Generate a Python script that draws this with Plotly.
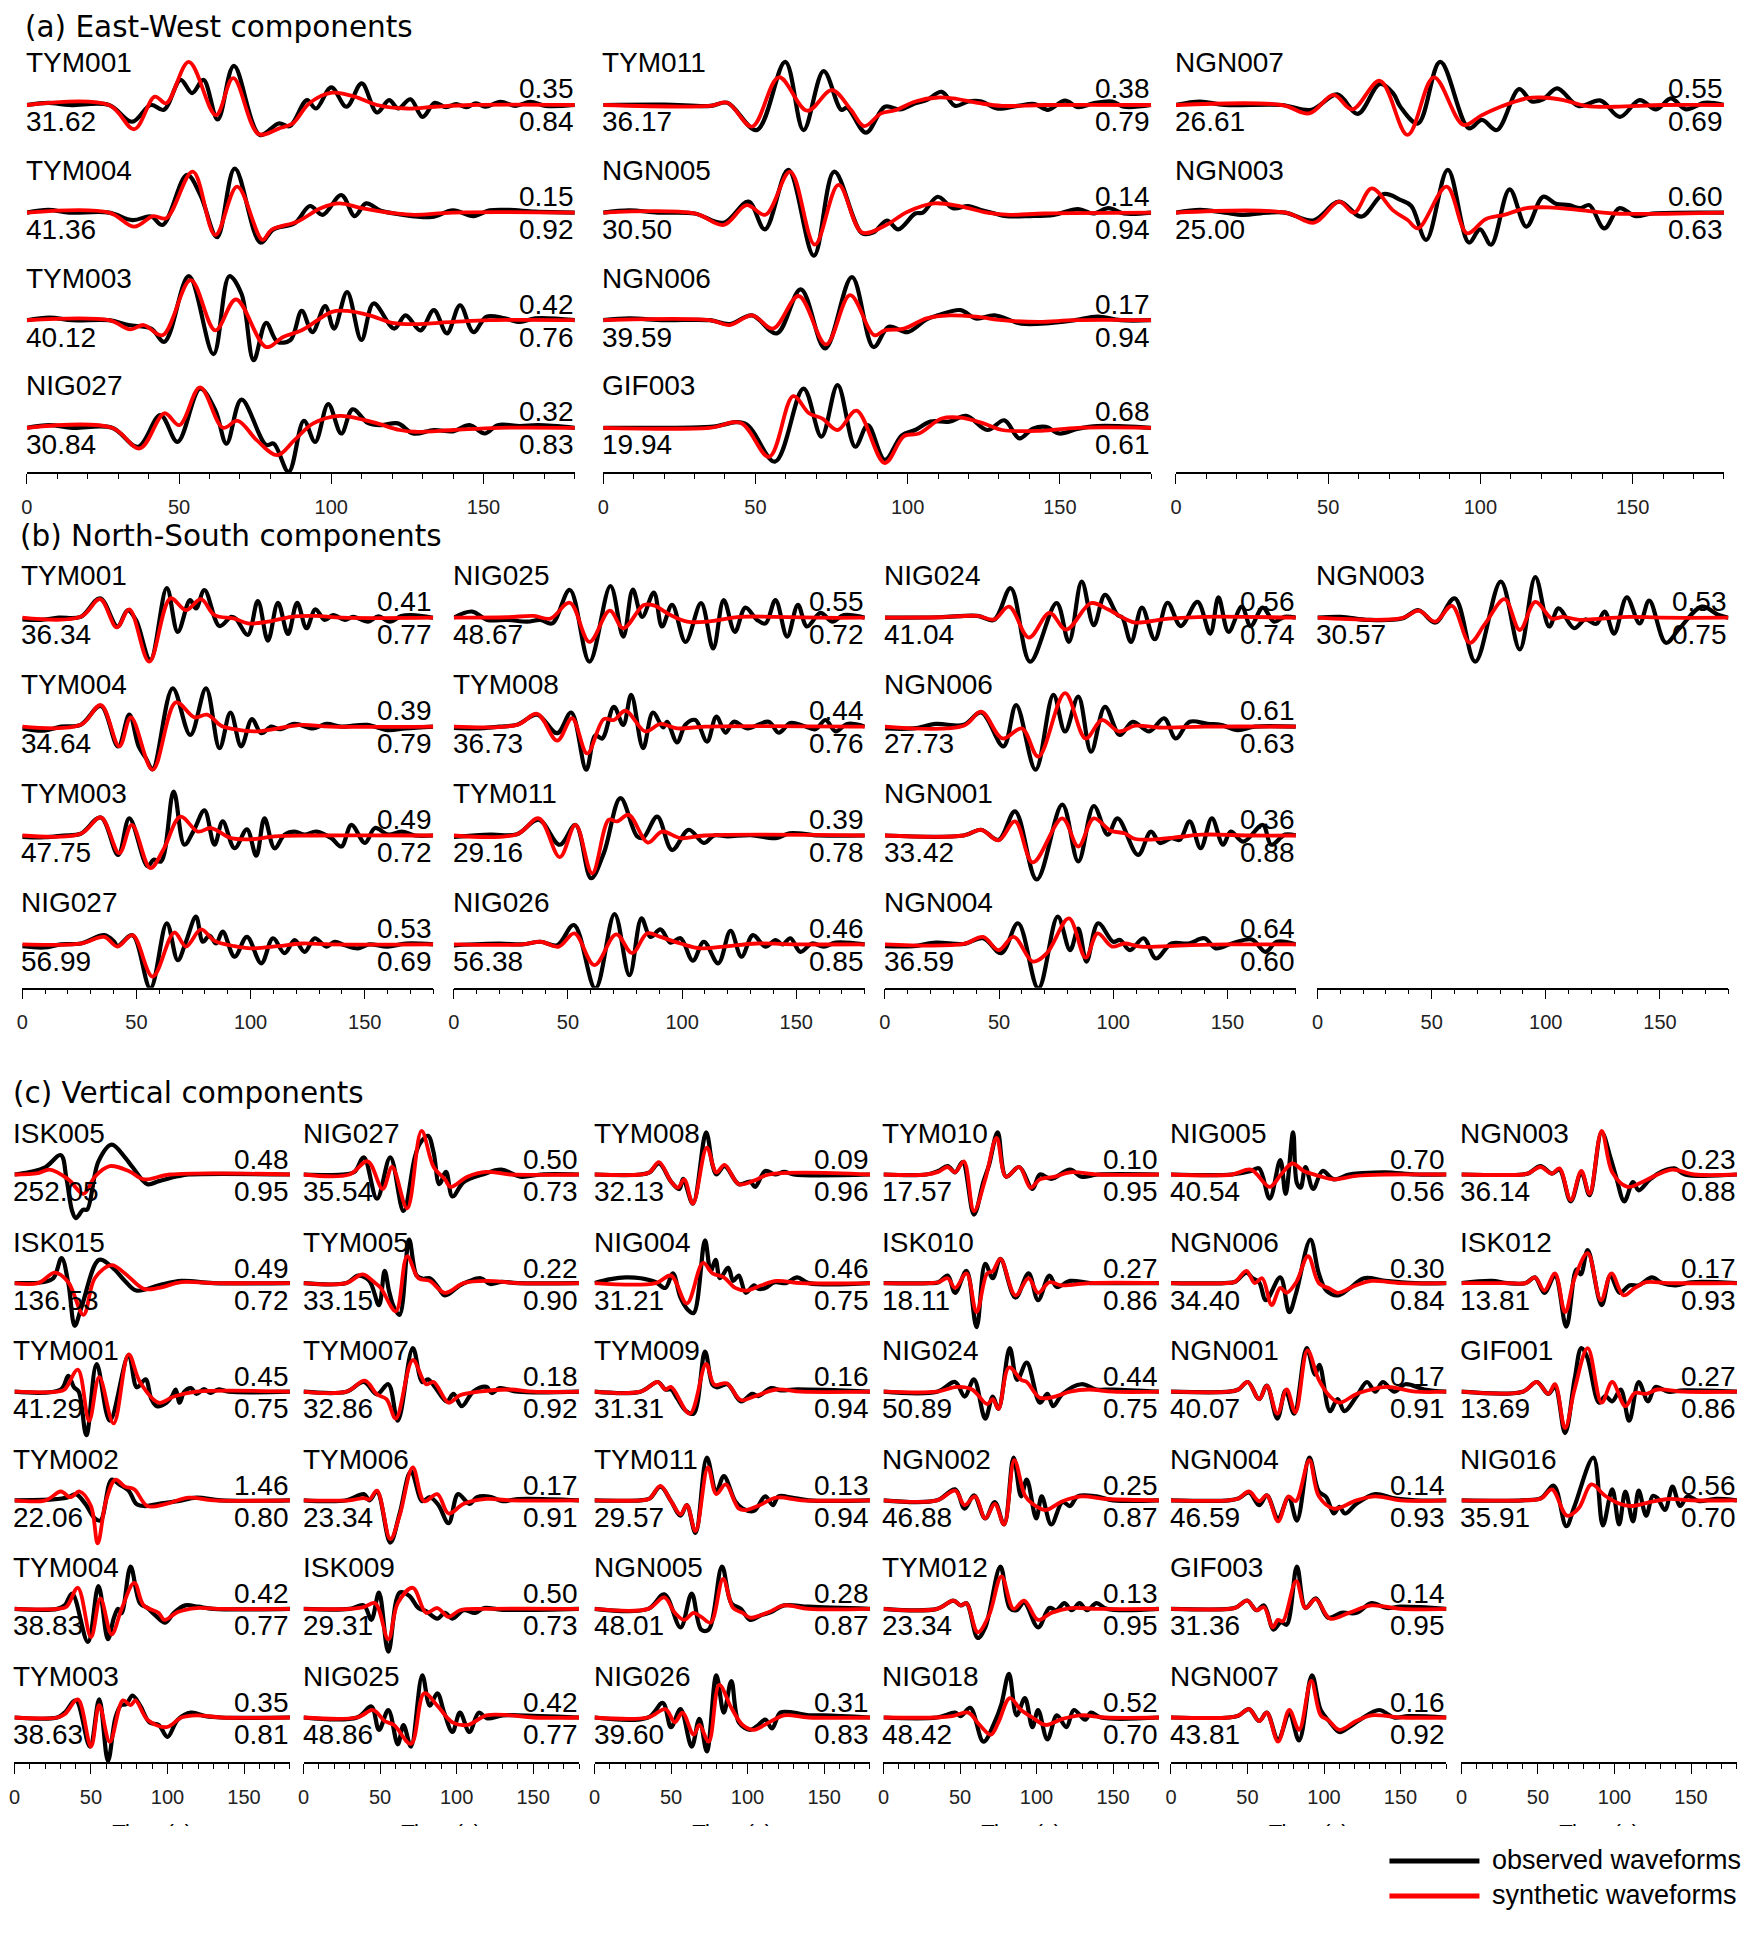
import plotly.graph_objects as go

W, H = 1750, 1934          # page (reference) size in pixels
PAGE_MARGIN = 8            # default body margin of the html page
WF, HF = W - 2 * PAGE_MARGIN, H - 2 * PAGE_MARGIN
X_SCALE, X_SHIFT = 0.9966, 5.5   # horizontal calibration of the photographed page
FONT = "Liberation Sans, Arial, sans-serif"
TITLE_FONT = "DejaVu Sans, Liberation Sans, Arial, sans-serif"


def px2x(px):
    return ((px / X_SCALE - X_SHIFT) - PAGE_MARGIN) / WF


def py2y(py):
    return 1 - (py - PAGE_MARGIN) / HF


# ------------------------------------------------------------------ data
# Each waveform: flat list [t0, a0, t1, a1, ...] (time in s, normalised amplitude)

# (a) East-West components
EW_STATIONS = ["TYM001", "TYM004", "TYM003", "NIG027", "TYM011", "NGN005", "NGN006", "GIF003", "NGN007", "NGN003"]
EW_PEAK = [31.62, 41.36, 40.12, 30.84, 36.17, 30.50, 39.59, 19.94, 26.61, 25.00]
EW_TOP = [0.35, 0.15, 0.42, 0.32, 0.38, 0.14, 0.17, 0.68, 0.55, 0.60]
EW_BOTTOM = [0.84, 0.92, 0.76, 0.83, 0.79, 0.94, 0.94, 0.61, 0.69, 0.63]
EW_OBS = [
    [0,0, 7,0.05, 14,0, 27,0, 34.6,-0.38, 40.7,0, 45,-0.11, 50.5,0.57, 54.3,0.27, 58,0.57, 62.7,-0.33, 68,0.89, 76.5,-0.68, 82.7,-0.42, 86.4,-0.48, 92,0.11, 95,-0.08, 100,0.4, 105,-0.04, 110,0.49, 115,-0.17, 119,0.11, 122,-0.08, 126,0.13, 130,-0.27, 134,0.05, 137.7,-0.05, 141,0.02, 144.4,-0.05, 147.5,0.04, 150.6,-0.04, 155.6,0.07, 160.5,-0.02, 165.4,0.07, 170.4,-0.02, 180,0],
    [0,0, 7,0.06, 14,0, 27,0, 34.7,-0.17, 40.8,-0.09, 44.6,-0.28, 52.6,0.86, 57,0.4, 62.5,-0.56, 68.3,1.0, 76.7,-0.68, 81,-0.38, 88,-0.24, 93,0.15, 97.2,-0.05, 103.3,0.4, 107.7,-0.08, 111.4,0.21, 116.3,0.04, 122.5,-0.04, 133,-0.1, 140,0.05, 146.7,-0.08, 152,0.05, 158.4,0.06, 167,0.02, 180,0],
    [0,0, 7.4,0.06, 15,0, 27,0, 33.4,-0.11, 40.8,-0.19, 45.2,-0.49, 53.2,1.0, 61.3,-0.77, 66.5,1.0, 70.5,0.6, 74.5,-0.91, 78.6,-0.06, 82.3,-0.49, 86.6,-0.45, 90.3,0.21, 93.8,-0.27, 98,0.32, 100.9,-0.19, 105.2,0.64, 109.9,-0.45, 113.9,0.38, 120.7,-0.19, 124.4,0.11, 129.3,-0.23, 133.7,0.23, 138,-0.3, 142.3,0.34, 146.7,-0.27, 151,0.08, 157,0.04, 162,-0.04, 167,0.04, 180,0],
    [0,0, 7.4,0.06, 15,0, 28,0, 36.5,-0.43, 43.9,0.29, 49.5,-0.32, 56.9,0.89, 61.9,0.4, 65.6,-0.36, 70.5,0.64, 78.6,-0.39, 81.1,-0.36, 86,-1.0, 91,0.16, 94.7,-0.32, 99,0.54, 103.3,-0.13, 107,0.42, 112,0.11, 116.3,0.06, 121.9,0.1, 126.9,-0.13, 133.7,-0.05, 140,-0.08, 145.4,0.06, 150.4,-0.13, 154.7,0.06, 162,0.04, 168,0.06, 180,0],
    [0,0, 20,0.01, 35.2,-0.02, 40.8,0.05, 50.4,-0.57, 59.8,0.98, 65.8,-0.57, 72.4,0.77, 78.2,-0.11, 80.1,-0.06, 86.3,-0.63, 92.5,-0.04, 97.5,-0.1, 102.5,0.04, 106.2,0.11, 111.2,0.3, 115.6,-0.02, 119.9,0.08, 124.3,0.08, 129.3,-0.08, 136.1,-0.02, 141.7,0.02, 146.1,-0.11, 151.7,0.1, 156,-0.05, 161,0.04, 167.2,0.08, 171,-0.04, 180,0],
    [0,0, 8.5,0.05, 18,0, 30,-0.02, 39.6,-0.23, 47.7,0.25, 53.1,-0.38, 60.8,0.97, 69.2,-0.98, 75.9,0.93, 85,-0.47, 88.8,-0.45, 93.2,-0.18, 96.9,-0.38, 102.5,-0.02, 105,0, 109.9,0.36, 114.9,0.1, 119.9,0.15, 124,0.06, 128.6,-0.02, 132.4,-0.08, 140,-0.08, 148,-0.05, 156,0.08, 161,-0.02, 166,0.1, 171,-0.02, 180,0],
    [0,0, 8.5,0.04, 20,0, 35,0, 41.5,-0.09, 48.9,0.11, 57,-0.3, 64.9,0.7, 72.9,-0.64, 81.7,0.98, 88.8,-0.61, 93.8,-0.15, 100,-0.27, 106.2,0.02, 109.9,0.11, 117.4,0.23, 122.4,0.04, 128.6,0.11, 137.4,-0.08, 147.3,-0.06, 155,0, 162.3,0.08, 170,0, 180,0],
    [0,0, 35.2,0.02, 46.5,0.1, 56.4,-0.77, 65.8,0.89, 71.7,-0.2, 77,0.97, 82.8,-0.43, 86.9,0.06, 92.5,-0.73, 98.1,-0.17, 102.5,-0.05, 107.5,0.14, 113.7,0.14, 119.3,0.27, 126.2,-0.05, 131.8,0.17, 136.7,-0.24, 141.1,-0.02, 145.4,0.02, 149.8,-0.13, 156,-0.02, 162.3,0.04, 180,0],
    [0,0, 7.9,0.08, 16,0, 34.7,0, 44.5,-0.11, 53,0.24, 59.7,-0.2, 67,0.48, 71.3,0.27, 73.7,-0.04, 79.5,-0.42, 86.8,0.98, 96.2,-0.53, 100.5,-0.34, 105.4,-0.57, 112.7,0.36, 116.9,0.08, 120.6,0.13, 125.2,0.38, 132.2,-0.02, 139.5,0.1, 145.8,-0.27, 152.3,0.11, 157.7,-0.1, 162.6,0.15, 167.5,-0.1, 173.6,0.05, 180,0],
    [0,0, 7.9,0.06, 16,0, 22,-0.05, 30,0, 36,0, 45.1,-0.18, 53.6,0.25, 60.9,-0.09, 68.2,0.42, 73.7,0.29, 77.3,0.15, 82.2,-0.62, 89.3,0.97, 96.2,-0.68, 99.9,-0.38, 103.5,-0.73, 109.6,0.53, 115.1,-0.32, 120.6,0.36, 124.8,0.2, 129.1,0.17, 132.8,0.1, 135.8,0.17, 140.7,-0.36, 145.6,0.1, 151,-0.08, 156.5,-0.02, 180,0],
]
EW_SYN = [
    [0,0, 27,0, 35.3,-0.55, 42,0.19, 45.8,0.04, 53.2,0.98, 62.1,-0.23, 67.8,0.61, 76.1,-0.66, 82.9,-0.53, 87.3,-0.42, 92.8,0.04, 100.2,0.28, 107.7,0.19, 115,0, 125,-0.08, 134,-0.04, 146,0, 180,0],
    [0,0, 27,0, 35.3,-0.32, 41.5,-0.08, 45.8,-0.13, 54.5,0.93, 61.9,-0.51, 69.1,0.59, 77.4,-0.62, 80.4,-0.39, 89,-0.2, 96.5,0.1, 102.7,0.21, 110,0.1, 121,-0.02, 127.5,-0.05, 140,0, 180,0],
    [0,0, 27,0, 34,-0.21, 38.4,-0.11, 44.6,-0.34, 53.8,0.91, 61.9,-0.23, 68.7,0.47, 78.6,-0.61, 84.2,-0.38, 90.3,-0.23, 100.2,0.19, 105.2,0.21, 112.6,0.11, 120,-0.06, 127.5,-0.09, 140,-0.04, 152,0, 180,0],
    [0,0, 28,0, 37.1,-0.47, 45.2,0.33, 50.1,0.06, 56.9,0.92, 64.4,0, 69.3,0.16, 75.5,-0.28, 82.3,-0.62, 87.9,-0.28, 94.1,0.1, 102.7,0.27, 108.9,0.21, 115.1,0.1, 122.5,-0.05, 127.5,-0.09, 140,-0.05, 155,0, 180,0],
    [0,0, 35.2,-0.02, 40.8,0.05, 48.9,-0.49, 57.7,0.63, 67,-0.13, 75.1,0.34, 81.3,-0.1, 85.7,-0.48, 91.3,-0.19, 96.3,-0.11, 102.5,0.08, 110,0.17, 114.9,0.15, 123.7,0.04, 131,-0.02, 145,0, 180,0],
    [0,0, 30,-0.02, 39.6,-0.28, 47.1,0.17, 53.3,-0.05, 61.4,0.93, 69.5,-0.73, 77.3,0.63, 85,-0.45, 92.5,-0.3, 100,0.02, 108.7,0.21, 117.4,0.14, 126,0, 133.6,-0.05, 145,-0.02, 180,0],
    [0,0, 35,0, 41.5,-0.11, 48.9,0.11, 55.8,-0.19, 64.2,0.55, 73.2,-0.55, 81.1,0.57, 89,-0.34, 92.5,-0.23, 98.8,-0.19, 106.2,0.04, 113.7,0.11, 122.4,0.08, 131,0, 143,-0.04, 155,0, 180,0],
    [0,0, 35,0, 45.2,0.11, 54.5,-0.66, 62.4,0.72, 67.6,0.33, 72,0.21, 77,-0.05, 83.2,0.39, 92.5,-0.8, 98.8,-0.19, 103.7,-0.13, 111.2,0.21, 117.4,0.23, 124.9,0.1, 131.1,-0.05, 143.6,-0.07, 156,0, 180,0],
    [0,0, 34.7,0, 43.8,-0.19, 51.8,0.23, 57.9,-0.1, 67,0.55, 76.1,-0.68, 84.7,0.63, 94.4,-0.45, 100.5,-0.23, 106.6,-0.04, 115.1,0.15, 120,0.17, 127.3,0.11, 134.6,-0.02, 144.3,-0.04, 160,0, 180,0],
    [0,0, 36,0, 45.4,-0.23, 53.6,0.25, 58.5,0, 64.3,0.55, 71.3,0.05, 76.1,-0.17, 79.5,-0.36, 88.9,0.59, 95.6,-0.47, 101.7,-0.15, 107.8,-0.05, 115.1,0.1, 122.4,0.12, 132,0.06, 144,-0.02, 180,0],
]

# (b) North-South components
NS_STATIONS = ["TYM001", "TYM004", "TYM003", "NIG027", "NIG025", "TYM008", "TYM011", "NIG026",
               "NIG024", "NGN006", "NGN001", "NGN004", "NGN003"]
NS_PEAK = [36.34, 34.64, 47.75, 56.99, 48.67, 36.73, 29.16, 56.38, 41.04, 27.73, 33.42, 36.59, 30.57]
NS_TOP = [0.41, 0.39, 0.49, 0.53, 0.55, 0.44, 0.39, 0.46, 0.56, 0.61, 0.36, 0.64, 0.53]
NS_BOTTOM = [0.77, 0.79, 0.72, 0.69, 0.72, 0.76, 0.78, 0.85, 0.74, 0.63, 0.88, 0.60, 0.75]
NS_OBS = [
    [0,-0.04, 8,-0.05, 16,0, 25.6,0.02, 34.1,0.44, 41.7,-0.2, 46.1,0.17, 49.8,-0.05, 56.1,-0.96, 63.3,0.67, 68.1,-0.32, 73.5,0.4, 76.1,0.21, 79.8,0.63, 86.4,-0.19, 91.5,0.02, 93.5,-0.02, 98.8,-0.39, 103.2,0.38, 107.6,-0.52, 112,0.34, 116.4,-0.37, 120.4,0.34, 124.5,-0.24, 128.4,0.19, 132.5,-0.05, 136.2,0.06, 141.3,-0.05, 145,0.02, 151.5,-0.09, 156,0.03, 161,-0.09, 166,0.04, 170.6,0.06, 180,0],
    [0,-0.04, 9.5,-0.09, 17,0, 25.6,0.04, 34.4,0.47, 42,-0.45, 46.9,0.27, 51,-0.45, 54.2,-0.72, 57.1,-0.97, 65.9,0.87, 73.6,-0.19, 80.5,0.87, 86.4,-0.49, 91.2,0.32, 95.9,-0.45, 100.6,0.17, 104.7,-0.15, 109.1,0, 112.7,-0.06, 119.3,0.06, 127.4,-0.04, 133.2,0.06, 140,0, 151,0.04, 160,-0.08, 168,-0.04, 180,0],
    [0,-0.03, 10,-0.04, 18,0, 25.6,0.04, 34.4,0.41, 42,-0.44, 46.9,0.39, 54.9,-0.7, 57.5,-0.55, 60.8,-0.59, 66.3,1.0, 71,-0.21, 75,0.1, 79.8,0.57, 84.2,-0.21, 87.8,0.32, 93,-0.29, 98.4,0.14, 102.5,-0.46, 106.1,0.39, 110.5,-0.29, 114.9,0.02, 119.3,0.09, 123.7,0.02, 128.8,0.09, 135.4,-0.06, 139.8,-0.25, 144.2,0.24, 150.1,-0.17, 154.5,0.17, 160.3,0.02, 166.2,0.09, 172,0, 180,0],
    [0,-0.04, 9.5,-0.07, 17,0, 25.6,0.02, 35.9,0.21, 40.3,0.06, 41.7,-0.04, 48.3,0.21, 56.1,-1.0, 63.3,0.48, 68.1,-0.36, 71.7,0.06, 76.1,0.63, 79.1,0.06, 82,0.2, 84.9,0.02, 87.8,0.29, 93,-0.28, 98.4,0.17, 104.7,-0.43, 109.8,0.14, 114.9,-0.2, 119.3,0.1, 123.7,-0.17, 128.1,0.14, 133.2,-0.05, 136.9,0.06, 141.3,-0.02, 147.1,-0.09, 152,0, 160,-0.05, 168,0.02, 180,0],
    [0,0, 8,0.14, 14.6,-0.05, 23.4,-0.05, 32.1,-0.09, 38,-0.05, 43.1,-0.13, 50.8,0.63, 59.4,-1.0, 68.6,0.72, 74.2,-0.43, 78.4,0.64, 82.5,0.02, 87.6,0.57, 91.2,-0.2, 95.6,0.29, 101.5,-0.55, 108.3,0.33, 113.6,-0.7, 118.2,0.4, 123.1,-0.32, 127.7,0.23, 132.8,-0.05, 136.5,-0.13, 140.9,0.4, 146,-0.43, 150.7,0.29, 154.7,-0.2, 160.6,0.11, 165.7,-0.09, 170.8,0.06, 180,0],
    [0,-0.03, 10,-0.04, 20,0, 27.7,0.04, 36.5,0.27, 45.3,-0.15, 51.4,0.32, 58,-0.98, 62,-0.2, 65,-0.27, 70.1,0.45, 74.2,0.04, 77.7,0.72, 82.9,-0.49, 87.2,0.32, 91.7,-0.02, 93.4,0.11, 97.8,-0.36, 101.5,0.05, 105.8,0.15, 110.9,-0.34, 115,0.23, 119,-0.14, 122.6,0.11, 128.5,-0.04, 137.9,0.11, 142.3,-0.14, 147.4,0.08, 153,0.02, 158.4,-0.06, 162.8,0.15, 167.2,-0.11, 172.3,0.06, 180,0],
    [0,-0.03, 16,0.02, 27.7,0.03, 37.2,0.36, 46.4,-0.21, 53.3,0.24, 60.1,-0.97, 65.7,-0.4, 73,0.85, 80.3,-0.02, 83,-0.05, 89.1,0.43, 95.6,-0.33, 102.9,0.13, 109.5,-0.17, 114,0, 120,-0.02, 130,0.01, 141,-0.06, 147,0.05, 160,0, 180,0],
    [0,-0.02, 20,0.02, 30,0, 38,0.06, 45.3,-0.02, 52.6,0.44, 62,-1.0, 70.4,0.69, 76.9,-0.7, 82.2,0.59, 86.1,0.17, 90.5,0.34, 94.9,0.04, 99.3,0.14, 104.7,-0.37, 109.5,0.06, 115.8,-0.43, 121.2,0.31, 126,-0.28, 131,0.21, 136.5,-0.05, 140.9,0.1, 144,0, 147.4,0.14, 151.8,-0.17, 156.9,0.02, 162,-0.05, 167.2,0.04, 180,0],
    [0,0, 24,0.01, 40.5,0.04, 47.8,-0.05, 55.1,0.67, 63.6,-1.0, 75.2,0.33, 80.6,-0.55, 86.2,0.82, 91.5,-0.17, 96.4,0.52, 101.9,0.06, 104,0, 107.8,-0.55, 112.6,0.23, 118.2,-0.49, 123.8,0.34, 129.6,-0.19, 136.9,0.36, 142.5,-0.36, 146.1,0.46, 150.5,-0.32, 156.3,0.25, 160.2,-0.19, 165.5,0.23, 170.4,-0.09, 175,0.02, 180,0],
    [0,-0.04, 12.6,-0.04, 22.3,0.06, 34.5,0.04, 42.2,0.32, 51.9,-0.45, 57.5,0.49, 66,-0.98, 73.8,0.72, 78.9,-0.11, 84.7,0.68, 90.3,-0.57, 96.4,0.45, 102.9,-0.19, 108.5,0.11, 115.8,-0.11, 122.3,0.19, 127.4,-0.27, 133.5,0.11, 141.3,0.06, 147,0.04, 154.6,-0.08, 162,0, 180,0],
    [0,0, 34.5,0, 42.2,0.13, 49.8,-0.1, 57,0.55, 66.5,-1.0, 77.7,0.7, 84.7,-0.59, 91.5,0.67, 97.6,0.02, 101.9,0.39, 110.9,-0.44, 116.5,0.09, 120.6,-0.17, 125.5,-0.06, 129.1,-0.1, 133.5,0.32, 138.3,-0.29, 143.2,0.39, 148.1,-0.21, 151.5,0.09, 157,-0.14, 165.5,0.24, 169.2,-0.21, 175.2,0.02, 180,0],
    [0,-0.04, 12.6,-0.04, 22.3,0.04, 34.5,0.01, 43,0.14, 51,-0.2, 58.3,0.48, 67.2,-1.0, 75.7,0.63, 81.1,-0.13, 84.7,0.36, 88.3,-0.39, 93.4,0.48, 100,0.06, 103,0.1, 107.3,-0.13, 113.3,0.14, 118.7,-0.32, 125.5,0.02, 133,0.02, 140,0.14, 144.9,-0.09, 152,0.02, 160.7,0.11, 166.7,-0.17, 171.6,0.06, 180,0],
    [0,0, 10.2,0.02, 22.4,-0.05, 37,-0.02, 44.3,0.17, 51.6,-0.11, 60.1,0.44, 69.1,-1.0, 80.3,0.82, 88.6,-0.72, 95.4,0.92, 101.5,-0.2, 105.6,0.21, 112.4,-0.24, 117.3,-0.04, 122.1,-0.14, 125.8,0.14, 129.9,-0.36, 135.5,0.46, 141.1,-0.13, 145.3,0.39, 152.6,-0.57, 158.6,-0.24, 168.4,0.25, 175.7,0.06, 180,0],
]
NS_SYN = [
    [0,0, 25.6,0.02, 34.1,0.42, 41.4,-0.22, 46.9,0.19, 55.6,-1.0, 64.9,0.44, 71.7,0.17, 78.3,0.42, 84.2,0.06, 93,-0.02, 98.8,-0.13, 107.6,-0.09, 117.9,0.02, 128.1,0.04, 140,0, 180,0],
    [0,0, 25.6,0.04, 34.4,0.49, 42.5,-0.45, 47.6,0.21, 57.1,-0.98, 67.3,0.55, 75.4,0.21, 81,0.27, 87.1,0.02, 93,-0.06, 101.8,-0.11, 112,-0.04, 122.3,0.04, 135,0, 180,0],
    [0,0, 25.6,0.04, 34.4,0.41, 42.5,-0.4, 48,0.24, 56.1,-0.74, 62,-0.3, 69.3,0.43, 76.9,0.09, 82.7,0.17, 91.5,-0.06, 101.8,-0.08, 110.5,-0.02, 125,0, 180,0],
    [0,0, 25.6,0.02, 35.9,0.17, 41.7,-0.05, 48.3,0.21, 57.1,-0.73, 66.6,0.27, 71.7,-0.05, 78.3,0.34, 84.2,0.08, 93,-0.04, 100.3,-0.09, 112,-0.04, 122.3,0.02, 135,0, 180,0],
    [0,0, 23.4,0.01, 35,0.04, 42.3,-0.02, 50.8,0.34, 59.4,-0.55, 68.3,0.16, 74.2,-0.24, 83.2,0.29, 87.6,0.28, 94.9,0.06, 102.2,-0.09, 110.9,-0.09, 125.5,0.02, 140,0.02, 160,0, 180,0],
    [0,0, 27.7,0.04, 36.5,0.29, 45.3,-0.32, 51.8,0.19, 58.4,-0.61, 65.7,0.17, 70.1,0.15, 75.2,0.36, 83.9,-0.11, 90.5,0.06, 97.8,-0.04, 110,0, 180,0],
    [0,0, 27.7,0.03, 37.2,0.39, 46.4,-0.49, 53.3,0.24, 60.6,-0.86, 67.9,0.36, 71.5,0.32, 76.6,0.47, 85,-0.16, 91.2,0.09, 99.3,-0.06, 110,0, 180,0],
    [0,0, 30,0, 38,0.06, 46,-0.05, 52.8,0.25, 61.6,-0.47, 71.1,0.23, 78.1,-0.2, 84.7,0.25, 90.5,0.17, 99.3,0.02, 108,-0.09, 118.2,-0.05, 132.8,0.02, 150,0, 180,0],
    [0,0, 24,0.01, 40.5,0.04, 47.8,-0.04, 54.4,0.25, 63.1,-0.45, 72.1,0.11, 79.4,-0.27, 90.3,0.33, 97.6,0.19, 104.9,-0.02, 109.7,-0.11, 124.3,-0.02, 140,0.02, 180,0],
    [0,0, 34.5,0.02, 42.2,0.34, 51.5,-0.27, 60,-0.04, 67.2,-0.68, 78.9,0.76, 87.9,-0.27, 95.1,0.15, 102.4,-0.11, 109.7,0.02, 120,-0.02, 140,0, 180,0],
    [0,0, 34.5,0, 42.2,0.13, 49.8,-0.11, 57,0.32, 64.8,-0.61, 77.7,0.39, 84.7,-0.25, 91.5,0.39, 98.8,0.11, 104.9,0.05, 109.7,-0.08, 124.3,-0.06, 138.8,0.02, 160,0, 180,0],
    [0,0, 34.5,0.01, 43,0.17, 49.8,-0.13, 56.4,0.17, 64.8,-0.39, 70.9,-0.2, 80.6,0.59, 87.9,-0.3, 93.2,0.25, 99.5,-0.05, 104.9,0.02, 112.1,-0.05, 131.6,-0.02, 150,0, 180,0],
    [0,0, 37,-0.01, 44.3,0.16, 51.6,-0.09, 58.9,0.27, 66.7,-0.57, 73.5,-0.13, 82,0.42, 88.6,-0.28, 95.4,0.36, 102.7,-0.02, 107.5,0.02, 114.8,-0.05, 124.6,-0.02, 136.7,0.02, 150,0, 180,0],
]

# (c) Vertical components
UD_STATIONS = ["ISK005", "ISK015", "TYM001", "TYM002", "TYM004", "TYM003",
               "NIG027", "TYM005", "TYM007", "TYM006", "ISK009", "NIG025",
               "TYM008", "NIG004", "TYM009", "TYM011", "NGN005", "NIG026",
               "TYM010", "ISK010", "NIG024", "NGN002", "TYM012", "NIG018",
               "NIG005", "NGN006", "NGN001", "NGN004", "GIF003", "NGN007",
               "NGN003", "ISK012", "GIF001", "NIG016"]
UD_PEAK = [252.05, 136.53, 41.29, 22.06, 38.83, 38.63,
           35.54, 33.15, 32.86, 23.34, 29.31, 48.86,
           32.13, 31.21, 31.31, 29.57, 48.01, 39.60,
           17.57, 18.11, 50.89, 46.88, 23.34, 48.42,
           40.54, 34.40, 40.07, 46.59, 31.36, 43.81,
           36.14, 13.81, 13.69, 35.91]
UD_TOP = [0.48, 0.49, 0.45, 1.46, 0.42, 0.35,
          0.50, 0.22, 0.18, 0.17, 0.50, 0.42,
          0.09, 0.46, 0.16, 0.13, 0.28, 0.31,
          0.10, 0.27, 0.44, 0.25, 0.13, 0.52,
          0.70, 0.30, 0.17, 0.14, 0.14, 0.16,
          0.23, 0.17, 0.27, 0.56]
UD_BOTTOM = [0.95, 0.72, 0.75, 0.80, 0.77, 0.81,
             0.73, 0.90, 0.92, 0.91, 0.73, 0.77,
             0.96, 0.75, 0.94, 0.94, 0.87, 0.83,
             0.95, 0.86, 0.75, 0.87, 0.95, 0.70,
             0.56, 0.84, 0.91, 0.93, 0.95, 0.92,
             0.88, 0.93, 0.86, 0.70]
UD_OBS = [
    [0,0, 10.6,0.06, 20.4,0.17, 30.3,0.44, 34,-0.1, 37.7,-0.83, 40.1,-0.99, 45,-0.8, 47.5,-0.8, 54.9,0.3, 63.5,0.68, 72.2,0.39, 77.1,0.17, 86.9,-0.22, 94.3,-0.15, 106.7,-0.04, 114,0, 180,0],
    [0,0, 18,0.02, 25.4,0.11, 30.8,0.57, 35.2,0, 39.4,-0.97, 43.8,-0.55, 55.4,0.53, 64.8,0.33, 72.2,0.05, 79.6,-0.17, 94.3,-0.05, 109.1,0.05, 130,0, 180,0],
    [0,0, 30.3,0.05, 35.2,0.36, 38.9,0.1, 42,0, 47,-0.99, 53.7,0.63, 62.3,-0.66, 74.6,0.83, 80,0.1, 85.7,0.28, 89.4,-0.16, 93.1,-0.33, 99.3,-0.25, 103,-0.1, 105.4,0.05, 107.9,-0.25, 111,0, 115.3,0.08, 119,-0.05, 123.9,0.06, 128,-0.03, 133,0.05, 140,0, 180,0],
    [0,0, 25,0.02, 35.2,0.07, 40.1,0.14, 46.3,-0.08, 52.5,-0.41, 56.2,-0.46, 63.5,0.47, 68.5,0.36, 74.6,0.22, 79.6,-0.08, 84.5,-0.13, 94.3,-0.08, 106.7,-0.02, 118.9,0.06, 135,0, 180,0],
    [0,0, 28,0, 32.8,0.08, 37.7,0.35, 48,-0.75, 54.9,0.52, 61.1,-0.69, 65,-0.2, 67.7,0, 70,-0.1, 75.9,0.96, 82,0.13, 86.9,0.02, 91.9,-0.14, 98.5,-0.31, 104.2,-0.09, 111.6,0.08, 120,0.05, 130,0, 180,0],
    [0,0, 28,0, 32.8,0.11, 40.1,0.39, 49.3,-0.66, 55.4,0.41, 61.1,-0.99, 66,0, 69.7,0.28, 73,0.3, 77.1,0.5, 82,0.28, 88.2,-0.11, 94.3,-0.17, 100,-0.44, 106.7,-0.05, 115.3,0.11, 125,0.03, 135,0, 180,0],
    [0,0, 25,0, 33.3,0.06, 39.4,0.39, 48,-0.55, 56.7,0.39, 65.3,-0.83, 72.7,0.39, 76,0.7, 81.3,0.88, 85,0.5, 88.7,-0.22, 93.1,0.06, 97.3,-0.5, 104.7,-0.17, 117,0, 129.3,0.11, 141.6,-0.05, 155,0, 180,0],
    [0,0, 28,0, 35.7,0.17, 43,0.05, 49.3,-0.5, 53,0.28, 56,-0.2, 59.1,-0.55, 62.8,-0.72, 69,0.99, 73.9,0.17, 78,0.1, 82.5,0.11, 87,-0.05, 92.4,-0.28, 102.2,-0.05, 108,0.04, 115.8,0.11, 122,-0.02, 129.3,0.03, 140,0, 180,0],
    [0,0, 28,0, 39.4,0.22, 48,-0.06, 55.4,0.17, 61.6,-0.66, 71.4,0.99, 77.6,0.22, 81.3,0.28, 86,0.1, 93.6,-0.22, 98,-0.05, 103.4,-0.33, 110.8,0, 119.5,0.11, 123,-0.03, 128.1,0.08, 140,0, 180,0],
    [0,0, 28,0, 39.4,0.14, 43.1,0, 48,0.2, 56.7,-0.96, 62.8,-0.3, 70.2,0.66, 77.6,-0.02, 82.5,0.07, 88,-0.1, 94.8,-0.52, 101,0.14, 108.4,-0.08, 113.3,0.07, 121.9,0.08, 130,-0.02, 140,0.03, 180,0],
    [0,0, 30,0, 39.4,0.08, 44.3,-0.25, 49.3,0.37, 55.4,-0.97, 62.8,0.37, 69,0.3, 75.1,0.02, 80,-0.05, 87.4,-0.22, 92.4,-0.09, 97.3,-0.22, 104.7,-0.03, 112.1,-0.09, 118,0.02, 130,-0.02, 180,0],
    [0,0, 35,0, 44.3,0.25, 49.3,-0.28, 55.4,0.17, 61.6,-0.61, 65.3,-0.17, 70.2,-0.66, 77.6,0.96, 82.5,0.27, 87.4,0.55, 92,0.1, 97.3,-0.33, 102.2,0.11, 108.4,-0.33, 114.5,0.11, 120,-0.02, 130,0.05, 140,0.05, 180,0],
    [0,0, 30,0, 36,0.05, 42.1,0.25, 50,-0.16, 55.4,-0.33, 57.9,-0.1, 64.3,-0.66, 72.9,0.96, 77.1,0.22, 79.6,0, 85,0.19, 94.3,-0.22, 101.7,-0.16, 104.9,-0.28, 111.6,0.08, 118,0, 124,0.06, 130,0, 180,0],
    [0,0, 10.6,0.09, 20.4,0.13, 30.3,0.11, 40.1,0.02, 46.3,-0.11, 51.2,0.22, 56.2,-0.33, 61.1,-0.61, 64.8,-0.68, 72.2,0.97, 75.9,0.27, 79.1,0.53, 82,0.11, 87.4,0.35, 90.6,0.05, 94.3,0.17, 98.8,-0.22, 104.2,-0.05, 107,-0.13, 111.6,-0.11, 117.7,0.02, 125.1,0, 132.5,0.13, 140,0, 180,0],
    [0,0, 30,0, 41.4,0.22, 46.3,0.05, 50,0.05, 54,-0.15, 59.9,-0.44, 64.8,-0.5, 72.2,0.91, 77.1,0.16, 80,0.1, 86.9,0.17, 95.6,-0.22, 103,-0.05, 107,-0.1, 115.3,0.08, 122,0.03, 130,0.05, 180,0],
    [0,0, 30,0, 36,0.04, 43.1,0.31, 50,-0.02, 56.2,-0.35, 60.3,-0.11, 66,-0.74, 73.4,0.97, 79.6,0.2, 84.5,0.55, 91.9,-0.02, 96.8,-0.19, 104.2,-0.24, 111.6,0.09, 116.5,-0.11, 120.2,0.09, 128.8,0.06, 140,0, 180,0],
    [0,0, 35,0, 45.6,0.33, 56.2,-0.42, 63.5,0.35, 69.7,-0.47, 74.6,-0.47, 83.3,0.96, 89.4,0.13, 95.6,0, 101.7,-0.25, 109.1,-0.14, 115,-0.08, 123.9,0.08, 140,0.05, 180,0],
    [0,0, 35,0, 44.6,0.33, 50,-0.22, 56.2,0.19, 63.5,-0.66, 68.5,-0.03, 73.4,-0.77, 79.6,0.96, 84.5,0.11, 89.4,0.83, 94.3,-0.11, 101.7,-0.28, 106,-0.2, 111.6,-0.05, 116,-0.25, 121.4,0.11, 130,0.11, 140,0.05, 150,0.05, 180,0],
    [0,0, 28,0, 35.7,0.08, 41.9,0.19, 46.8,0.05, 51.7,0.28, 59.1,-0.91, 65.3,-0.16, 69,0.22, 74.6,0.96, 80.1,-0.05, 88.7,0.17, 97.3,-0.33, 102.2,0, 109.6,-0.1, 121.9,0.11, 129.3,-0.05, 140,0, 180,0],
    [0,0, 30,0, 36,0.02, 41.9,0.17, 46.8,-0.22, 54.2,0.28, 60.8,-1.0, 66.5,0.44, 71.4,0.11, 76.4,0.55, 86.2,-0.33, 94.8,0.22, 101,-0.39, 108.4,0.17, 113.3,-0.09, 121.9,0.05, 135,0, 150,0, 180,0],
    [0,0, 35,0, 46.8,0.22, 53,-0.11, 59.1,0.28, 66.5,-0.61, 71.4,-0.11, 75.1,-0.39, 82.5,0.99, 87.4,0.27, 93.6,0.66, 102.2,-0.25, 107.1,-0.05, 110.8,-0.33, 117,-0.05, 129.3,0.17, 139.2,0.05, 150,0.05, 180,0],
    [0,0, 35,0, 46.8,0.25, 53,-0.19, 59.1,0.11, 66.5,-0.41, 72.7,-0.04, 78.8,-0.55, 85,0.97, 89.9,0.09, 93.6,0.47, 99.8,-0.41, 103.4,0.09, 109.6,-0.55, 117,-0.04, 121.9,-0.13, 126.8,0.09, 139.2,0.09, 150,0, 180,0],
    [0,0, 35,0, 45.6,0.19, 50.5,0.08, 54.2,0.13, 61.6,-0.66, 66.5,-0.42, 76.4,0.96, 82.5,0.02, 87,-0.03, 91.9,0.15, 101,-0.42, 108.4,0.02, 113,-0.03, 118.2,0.13, 123,-0.03, 128.1,0.13, 133,-0.03, 139.2,0.13, 146,0, 180,0],
    [0,0, 35,0, 46.8,0.11, 50.5,0.03, 56.7,0.22, 65.3,-0.55, 72.7,-0.1, 77,0.3, 82,0.99, 87,0.05, 92.4,0.44, 97.3,-0.22, 101,0.17, 107.1,-0.5, 113.3,0.05, 119.5,-0.22, 124.4,0.17, 131.8,-0.05, 135.5,0.11, 142,0, 180,0],
    [0,0, 40,0, 52.2,0.08, 57.6,0.14, 64.5,-0.55, 71.4,0.33, 74.9,-0.44, 79.8,0.96, 82.3,-0.2, 84.7,-0.3, 87.9,0.17, 92.9,-0.33, 99,0.08, 106.4,-0.11, 116.3,0, 125,0.03, 140,0.05, 160,0, 180,0],
    [0,0, 35,0, 42,0.03, 49.3,0.24, 53.4,0.11, 57.6,0.02, 62.1,-0.39, 71.4,0.13, 77.3,-0.66, 81.8,-0.22, 91.1,0.99, 96.6,0.22, 101.5,-0.17, 108.9,-0.28, 116.3,-0.13, 126.1,0.11, 140,0.05, 160,0, 180,0],
    [0,0, 38,0, 44,0.05, 50.2,0.22, 57.6,-0.17, 62.6,0.14, 69.5,-0.61, 74.9,0.03, 80.5,-0.5, 88.7,0.99, 94.1,0.39, 97,0.61, 103.9,-0.44, 108.9,-0.17, 113.3,-0.44, 121.2,-0.11, 128.1,0.22, 133.5,0, 138.4,0.22, 145.8,0, 153.2,0.17, 165.5,0.05, 180,0],
    [0,0, 38,0, 44,0.04, 51,0.18, 57.6,-0.11, 62.6,0.11, 70,-0.41, 76.8,0.07, 82.3,-0.46, 90.4,0.97, 96.6,0.2, 101.5,0.07, 106.4,-0.3, 110,-0.15, 113.8,-0.3, 121.2,-0.08, 133.5,0.14, 145,0.05, 160,0, 180,0],
    [0,0, 38,0, 43,0.04, 49.8,0.19, 55.9,-0.03, 60.8,0.08, 67,-0.47, 71.9,-0.3, 75.6,-0.36, 82.3,0.96, 87.9,0.02, 94.6,0.24, 102.7,-0.2, 111.3,-0.09, 121.2,-0.09, 131,0.13, 140.9,0.02, 150,0.05, 180,0],
    [0,0, 38,0, 44,0.04, 51,0.19, 57.6,-0.08, 62.6,0.11, 70,-0.5, 77.3,0.08, 83.7,-0.52, 92.1,0.96, 97.8,0.17, 103.9,-0.11, 110.1,-0.33, 116.3,-0.22, 123.6,-0.05, 136,0.17, 145.8,0, 155,0.03, 180,0],
    [0,0, 40,0, 44,0.03, 51.7,0.19, 59.1,0.02, 64,0.11, 71.4,-0.61, 78.3,0.05, 83.7,-0.47, 91.6,0.96, 97.3,0.39, 101,-0.05, 106.4,-0.61, 112.1,-0.17, 115.8,-0.36, 123.2,-0.11, 131.8,0.08, 139.2,0.14, 146,0, 180,0],
    [0,0, 19.7,0.05, 30,0, 42,0, 48,0.13, 54.2,-0.22, 61.1,0.17, 68.5,-0.99, 75.1,0.31, 78,0.2, 82.5,0.75, 91.6,-0.5, 97.3,0.17, 103.4,-0.22, 110,-0.05, 116,-0.05, 124.4,0.13, 131,0, 140,-0.05, 150,0.02, 180,0],
    [0,0, 40,0, 49.3,0.22, 56.7,-0.05, 61.1,0.11, 67.7,-0.94, 74,0.3, 78.3,0.99, 82,0.8, 89.9,-0.25, 94,-0.1, 98.5,-0.22, 104,0.05, 109.6,-0.66, 115.8,0.22, 121.9,-0.22, 126.8,0.11, 135,0, 145,0.03, 180,0],
    [0,0, 40,0, 52,0.05, 60.3,0.33, 68.5,-0.59, 73.9,-0.13, 86.2,0.97, 92.4,-0.57, 98.5,0.25, 103,-0.55, 107.1,0.2, 112.1,-0.48, 115.8,0.22, 120.7,-0.35, 125,0.1, 128.1,0.05, 133,-0.22, 137.9,0.31, 142.9,-0.13, 147.8,0.09, 155.2,-0.02, 165,0.03, 180,0],
]
UD_SYN = [
    [0,0, 15.5,0.03, 22.9,0.11, 35.2,-0.11, 45.1,-0.44, 52.5,-0.05, 62.3,0.19, 74.6,0.08, 84.5,-0.11, 101.7,0, 180,0],
    [0,0, 15.5,0, 26.6,0.24, 35.2,0.02, 45.1,-0.72, 52.5,0.11, 63.5,0.41, 72.2,0.22, 84.5,-0.13, 94.3,-0.11, 109,0.02, 130,0, 180,0],
    [0,0, 28,0, 32.8,0.05, 41.4,0.5, 48.8,-0.66, 55.4,0.33, 64.8,-0.72, 74.6,0.85, 82,0.22, 94.3,-0.25, 104.2,-0.11, 118.9,0, 180,0],
    [0,0, 20.4,0, 30.3,0.2, 36.5,0.07, 42.6,0.2, 50,-0.13, 54.4,-0.98, 59.9,0.0, 66,0.47, 72.2,0.31, 78.3,0.25, 86.9,-0.13, 99.3,-0.08, 114,0.06, 130,0, 180,0],
    [0,0, 28,0, 34,0.05, 41.4,0.48, 50,-0.64, 56.2,0.24, 63.5,-0.58, 70,0, 78.3,0.59, 84.5,0.08, 94.3,-0.09, 98,-0.25, 106.7,-0.07, 118.9,0.02, 135,0, 180,0],
    [0,0, 28,0, 33,0.08, 41.4,0.41, 50,-0.66, 55.4,0.28, 62.3,-0.55, 70.9,0.39, 75.9,0.28, 79.1,0.39, 86.9,-0.05, 99.3,-0.22, 109.1,0, 118.9,0.05, 135,0, 180,0],
    [0,0, 30,0, 41.9,0.3, 51.7,-0.33, 57.9,0.17, 67.7,-0.77, 77.1,0.99, 85,0.17, 92.4,-0.11, 96.1,-0.28, 107.1,-0.05, 119.5,0.06, 135,0, 180,0],
    [0,0, 28,0, 38.7,0.2, 46.8,0, 50.5,-0.11, 60.3,-0.64, 67.7,0.61, 75.1,0.11, 82.5,0.05, 92.4,-0.22, 104.7,0, 120,0.05, 140,0, 180,0],
    [0,0, 28,0, 40.1,0.25, 48,-0.06, 54.2,-0.17, 60.3,-0.61, 71.4,0.72, 80.1,0.17, 85,0.22, 94.8,-0.25, 102.2,-0.08, 114.5,0, 135,0.05, 150,0, 180,0],
    [0,0, 30,0, 39.4,0.05, 43.1,0.02, 48,0.22, 56.7,-0.88, 62.8,-0.35, 71.4,0.75, 78.8,-0.02, 87.4,0.14, 94.8,-0.3, 104.7,-0.08, 119.5,0.03, 135,0, 180,0],
    [0,0, 30,0, 39.4,0.04, 46.8,0.13, 55.4,-0.69, 61.6,0.13, 71.4,0.48, 80.1,-0.09, 87.4,0.02, 94.8,-0.18, 102.2,-0.03, 120,0, 180,0],
    [0,0, 35,0, 45.6,0.17, 53,-0.08, 59.1,-0.17, 70.2,-0.6, 78.8,0.55, 87.4,0.27, 97.3,-0.11, 107.1,-0.17, 119.5,0.05, 135,0.05, 150,0, 180,0],
    [0,0, 30,0, 36,0.05, 42.1,0.28, 50,-0.16, 54.4,-0.3, 58.6,-0.11, 64.3,-0.66, 73.4,0.61, 79.6,0.05, 85,0.22, 94.3,-0.22, 104.2,-0.14, 114,0, 180,0],
    [0,0, 40.1,0, 50,0.17, 60.3,-0.46, 70.9,0.46, 77.1,0.22, 84.5,0.13, 91.9,-0.11, 99.3,-0.17, 109.1,-0.05, 118.9,0.05, 135,0, 180,0],
    [0,0, 30,0, 41.4,0.22, 46.3,0.05, 50,0.11, 62.3,-0.5, 72.9,0.63, 78.3,0.16, 86.4,0.19, 95.6,-0.19, 104.2,-0.11, 118.9,0.05, 135,0, 180,0],
    [0,0, 30,0, 36,0.04, 43.1,0.33, 50,-0.02, 56.2,-0.32, 60.3,-0.11, 66,-0.7, 74.1,0.75, 79.6,0.14, 85.7,0.36, 94.3,-0.19, 99.3,-0.22, 106.7,-0.13, 119,0.06, 135,0, 180,0],
    [0,0, 35,0, 45.6,0.26, 52.5,-0.09, 58.6,-0.25, 64.8,-0.09, 69.7,-0.18, 75.9,-0.31, 84,0.68, 90.6,0.02, 96.8,-0.09, 101.7,-0.2, 114,-0.07, 123.9,0.08, 140,0, 180,0],
    [0,0, 35,0, 46.3,0.19, 52.5,-0.11, 57.4,0.11, 64.8,-0.39, 68.5,-0.17, 74.6,-0.55, 81.5,0.74, 89.4,0.22, 96.8,-0.17, 104.2,-0.28, 114,-0.11, 123.9,0.05, 140,0, 180,0],
    [0,0, 28,0, 35.7,0.06, 41.9,0.17, 46.8,0.05, 52.5,0.3, 59.1,-0.83, 66.5,-0.11, 73.9,0.83, 80.1,-0.05, 88.7,0.17, 96.1,-0.3, 102.2,-0.11, 112,-0.05, 121.9,0.05, 140,0, 180,0],
    [0,0, 30,0, 36,0.02, 41.9,0.11, 46.8,-0.11, 54.2,0.22, 60.8,-0.66, 67.7,0.22, 71.4,0.27, 76.4,0.55, 86.2,-0.28, 94.8,0.11, 101,-0.22, 108.4,0.02, 116,-0.05, 135,0, 180,0],
    [0,0, 35,0, 47.9,0.11, 57.9,0.05, 67.7,-0.28, 71.4,-0.17, 75.1,-0.39, 82,0.55, 90,0.27, 93.6,0.22, 102.2,-0.14, 112,-0.11, 121.9,0, 134,0.05, 150,0, 180,0],
    [0,0, 35,0, 46.8,0.22, 53,-0.11, 59.8,0.09, 66.5,-0.41, 72.7,-0.08, 78.8,-0.55, 85.5,0.91, 92.4,0.11, 97.3,-0.08, 105.9,-0.22, 117,-0.02, 129.3,0.09, 146,0.03, 180,0],
    [0,0, 35,0, 45.6,0.19, 50.5,0.08, 54.2,0.13, 61.6,-0.53, 69,-0.14, 77.1,0.74, 85,0, 91.9,0.19, 101,-0.25, 109.6,-0.09, 121.9,0.02, 140,0, 180,0],
    [0,0, 35,0, 45,0.03, 55.4,0.11, 62.8,-0.17, 70.2,-0.39, 75.1,-0.11, 82.5,0.44, 89.9,0.17, 97.3,0, 105.9,-0.17, 117,-0.03, 129.3,0.05, 145,0, 180,0],
    [0,0, 40,0, 52.2,0.11, 64.5,-0.28, 71.9,0, 79.3,0.25, 86.7,0.08, 96.6,-0.03, 106.4,-0.11, 121,-0.03, 140,0, 180,0],
    [0,0, 35,0, 42,0.03, 49.3,0.28, 54.7,0, 59.6,0.11, 65.8,-0.5, 71.4,-0.11, 75.6,-0.22, 81.8,0.02, 89.6,0.61, 96.6,0, 104,-0.13, 108.9,-0.22, 121,-0.05, 130.9,0.05, 150,0, 180,0],
    [0,0, 38,0, 44,0.05, 50.2,0.22, 57.6,-0.17, 62.6,0.14, 69.5,-0.5, 75.6,0.05, 81.3,-0.47, 89.2,0.94, 96.6,0.27, 104,-0.11, 110.1,-0.25, 121.2,-0.05, 131,0.05, 141,0.11, 160,0, 180,0],
    [0,0, 38,0, 44,0.04, 51,0.2, 57.6,-0.02, 62.6,0.11, 70,-0.48, 76.8,0.09, 81.5,-0.02, 90.4,0.91, 96.6,0.09, 106.4,-0.19, 121.2,0, 133.5,0.09, 150,0, 180,0],
    [0,0, 38,0, 43,0.04, 49.8,0.19, 55.9,-0.03, 60.8,0.04, 66.5,-0.42, 69.9,-0.25, 73.1,-0.28, 81.8,0.63, 87.9,0.02, 94.6,0.22, 103.9,-0.22, 116.3,-0.09, 131,0.08, 150,0, 180,0],
    [0,0, 38,0, 44,0.04, 51,0.19, 57.6,-0.08, 62.6,0.11, 70,-0.55, 77.3,0.17, 83.7,-0.28, 91.6,0.83, 97.8,0.05, 102.5,-0.05, 110.1,-0.28, 121,-0.08, 131,0.05, 150,0, 180,0],
    [0,0, 40,0, 44,0.03, 51.7,0.17, 59.1,0.02, 64,0.14, 71.4,-0.58, 78.3,0.08, 83.7,-0.44, 91.6,0.99, 98.5,0.05, 108.4,-0.28, 118.2,-0.17, 128.1,0, 138,0.11, 152,0, 180,0],
    [0,0, 30,0, 42,0, 48,0.13, 54.2,-0.17, 61.1,0.22, 67.7,-0.66, 73.9,0.11, 82.5,0.68, 91.1,-0.39, 98,0.22, 105.9,-0.28, 113.3,-0.11, 120.7,0.02, 135,0, 180,0],
    [0,0, 40,0, 49.3,0.22, 56.7,-0.05, 61.1,0.17, 67.7,-0.83, 73.9,0.05, 82.5,0.99, 91.6,-0.25, 98.5,0.22, 107.1,-0.33, 113.3,-0.03, 120.7,-0.05, 128,0.05, 145,0, 180,0],
    [0,0, 40,0, 52,0.04, 59.1,0.25, 69,-0.35, 76.4,-0.19, 85,0.36, 93.6,0.11, 103.4,-0.08, 110.8,-0.13, 123.2,-0.04, 135.5,0.03, 150,0, 180,0],
]

TIME_RANGE = [0, 180]
TICK_VALUES = [0, 50, 100, 150]
LEGEND_LABELS = ["observed waveforms", "synthetic waveforms"]
AXIS_TITLE = "Time (s)"

# ------------------------------------------------------------------ layout (page pixels)
AMP_PX = 44.0  # pixels per unit of normalised amplitude

SECTIONS = [
    dict(title="(a) East-West components", title_xy=(22, 27),
         stations=EW_STATIONS, peak=EW_PEAK, top=EW_TOP, bottom=EW_BOTTOM, obs=EW_OBS, syn=EW_SYN,
         rows=4, x0=[26.3, 602.7, 1175.5], width=548, base0=105, step=107.6,
         axis_py=472, top_py=48, lab_dy=42, top_dy=16, bot_dy=17, time_title=False),
    dict(title="(b) North-South components", title_xy=(17, 536),
         stations=NS_STATIONS, peak=NS_PEAK, top=NS_TOP, bottom=NS_BOTTOM, obs=NS_OBS, syn=NS_SYN,
         rows=4, x0=[21.7, 453.3, 884.4, 1317], width=411, base0=617.7, step=108.9,
         axis_py=987.7, top_py=560, lab_dy=42, top_dy=16, bot_dy=17, time_title=False),
    dict(title="(c) Vertical components", title_xy=(10.5, 1093),
         stations=UD_STATIONS, peak=UD_PEAK, top=UD_TOP, bottom=UD_BOTTOM, obs=UD_OBS, syn=UD_SYN,
         rows=6, x0=[13.9, 303, 594, 883, 1170.5, 1461], width=275.5, base0=1174.5, step=108.6,
         axis_py=1762, top_py=1115, lab_dy=41, top_dy=15, bot_dy=17, time_title=True),
]

TXT = 28
fig = go.Figure()
annotations = []
layout_axes = {}
n = 0

for sec in SECTIONS:
    annotations.append(dict(text=sec["title"], xref="paper", yref="paper",
                            x=px2x(sec["title_xy"][0]), y=py2y(sec["title_xy"][1]),
                            xanchor="left", yanchor="middle", showarrow=False,
                            font=dict(size=29.5, family=TITLE_FONT, color="black")))
    ncols = len(sec["x0"])
    for c in range(ncols):
        n += 1
        xa = "x" if n == 1 else f"x{n}"
        ya = "y" if n == 1 else f"y{n}"
        xk = "xaxis" if n == 1 else f"xaxis{n}"
        yk = "yaxis" if n == 1 else f"yaxis{n}"
        x0 = sec["x0"][c]
        layout_axes[xk] = dict(
            domain=[px2x(x0), px2x(x0 + sec["width"])], range=TIME_RANGE, anchor=ya,
            showgrid=False, zeroline=False, showline=True, linecolor="black", linewidth=1.5,
            ticks="outside", ticklen=10, tickwidth=1.3, tickcolor="black",
            tickvals=TICK_VALUES, ticktext=[str(v) for v in TICK_VALUES],
            tickfont=dict(size=20, family=FONT, color="#222"), ticklabelstandoff=6,
            minor=dict(ticks="outside", dtick=10, tick0=0, ticklen=5, tickwidth=1.1,
                       tickcolor="black", showgrid=False),
            fixedrange=True)
        layout_axes[yk] = dict(
            domain=[py2y(sec["axis_py"]), py2y(sec["top_py"])],
            range=[-sec["axis_py"], -sec["top_py"]], anchor=xa, visible=False, fixedrange=True)
        for r in range(sec["rows"]):
            i = c * sec["rows"] + r
            if i >= len(sec["stations"]):
                break
            base = sec["base0"] + r * sec["step"]
            for data, col, lw in ((sec["obs"][i], "black", 4.2), (sec["syn"][i], "#ff0000", 3.8)):
                ts = data[0::2]
                ys = [-base + a * AMP_PX for a in data[1::2]]
                fig.add_trace(go.Scatter(x=ts, y=ys, xaxis=xa, yaxis=ya, mode="lines",
                                         line=dict(color=col, width=lw, shape="spline", smoothing=1.0),
                                         showlegend=False, hoverinfo="skip"))
            f = dict(size=TXT, family=FONT, color="black")
            annotations += [
                dict(text=sec["stations"][i], xref=xa, yref=ya, x=0, y=-(base - sec["lab_dy"]),
                     xanchor="left", yanchor="middle", showarrow=False, font=f, xshift=-3),
                dict(text=f"{sec['peak'][i]:.2f}", xref=xa, yref=ya, x=0, y=-(base + sec["bot_dy"]),
                     xanchor="left", yanchor="middle", showarrow=False, font=f, xshift=-3),
                dict(text=f"{sec['top'][i]:.2f}", xref=xa, yref=ya, x=TIME_RANGE[1], y=-(base - sec["top_dy"]),
                     xanchor="right", yanchor="middle", showarrow=False, font=f, xshift=1),
                dict(text=f"{sec['bottom'][i]:.2f}", xref=xa, yref=ya, x=TIME_RANGE[1], y=-(base + sec["bot_dy"]),
                     xanchor="right", yanchor="middle", showarrow=False, font=f, xshift=1),
            ]

# clipped "Time (s)" labels under the vertical-component panels
n += 1
sec = SECTIONS[2]
clip_top, clip_bot = 1800, 1826
layout_axes[f"xaxis{n}"] = dict(domain=[0, 1], range=[0, 1], anchor=f"y{n}", visible=False, fixedrange=True)
layout_axes[f"yaxis{n}"] = dict(domain=[py2y(clip_bot), py2y(clip_top)], range=[-clip_bot, -clip_top],
                                anchor=f"x{n}", visible=False, fixedrange=True)
fig.add_trace(go.Scatter(x=[px2x(x0 + sec["width"] / 2) for x0 in sec["x0"]], y=[-1834] * len(sec["x0"]),
                         xaxis=f"x{n}", yaxis=f"y{n}", mode="text", text=[AXIS_TITLE] * len(sec["x0"]),
                         textfont=dict(size=22, family=FONT, color="black"), cliponaxis=True,
                         showlegend=False, hoverinfo="skip"))

# legend (drawn manually)
shapes = []
for label, col, py in zip(LEGEND_LABELS, ["black", "#ff0000"], [1861, 1896]):
    shapes.append(dict(type="line", xref="paper", yref="paper", x0=px2x(1389), x1=px2x(1479),
                       y0=py2y(py), y1=py2y(py), line=dict(color=col, width=5)))
    annotations.append(dict(text=label, xref="paper", yref="paper", x=px2x(1490), y=py2y(py - 1),
                            xanchor="left", yanchor="middle", showarrow=False,
                            font=dict(size=27, family=FONT, color="black")))

fig.update_layout(width=WF, height=HF, margin=dict(l=0, r=0, t=0, b=0),
                  paper_bgcolor="white", plot_bgcolor="white", showlegend=False,
                  annotations=annotations, shapes=shapes, **layout_axes)

fig.write_html("out.html")
